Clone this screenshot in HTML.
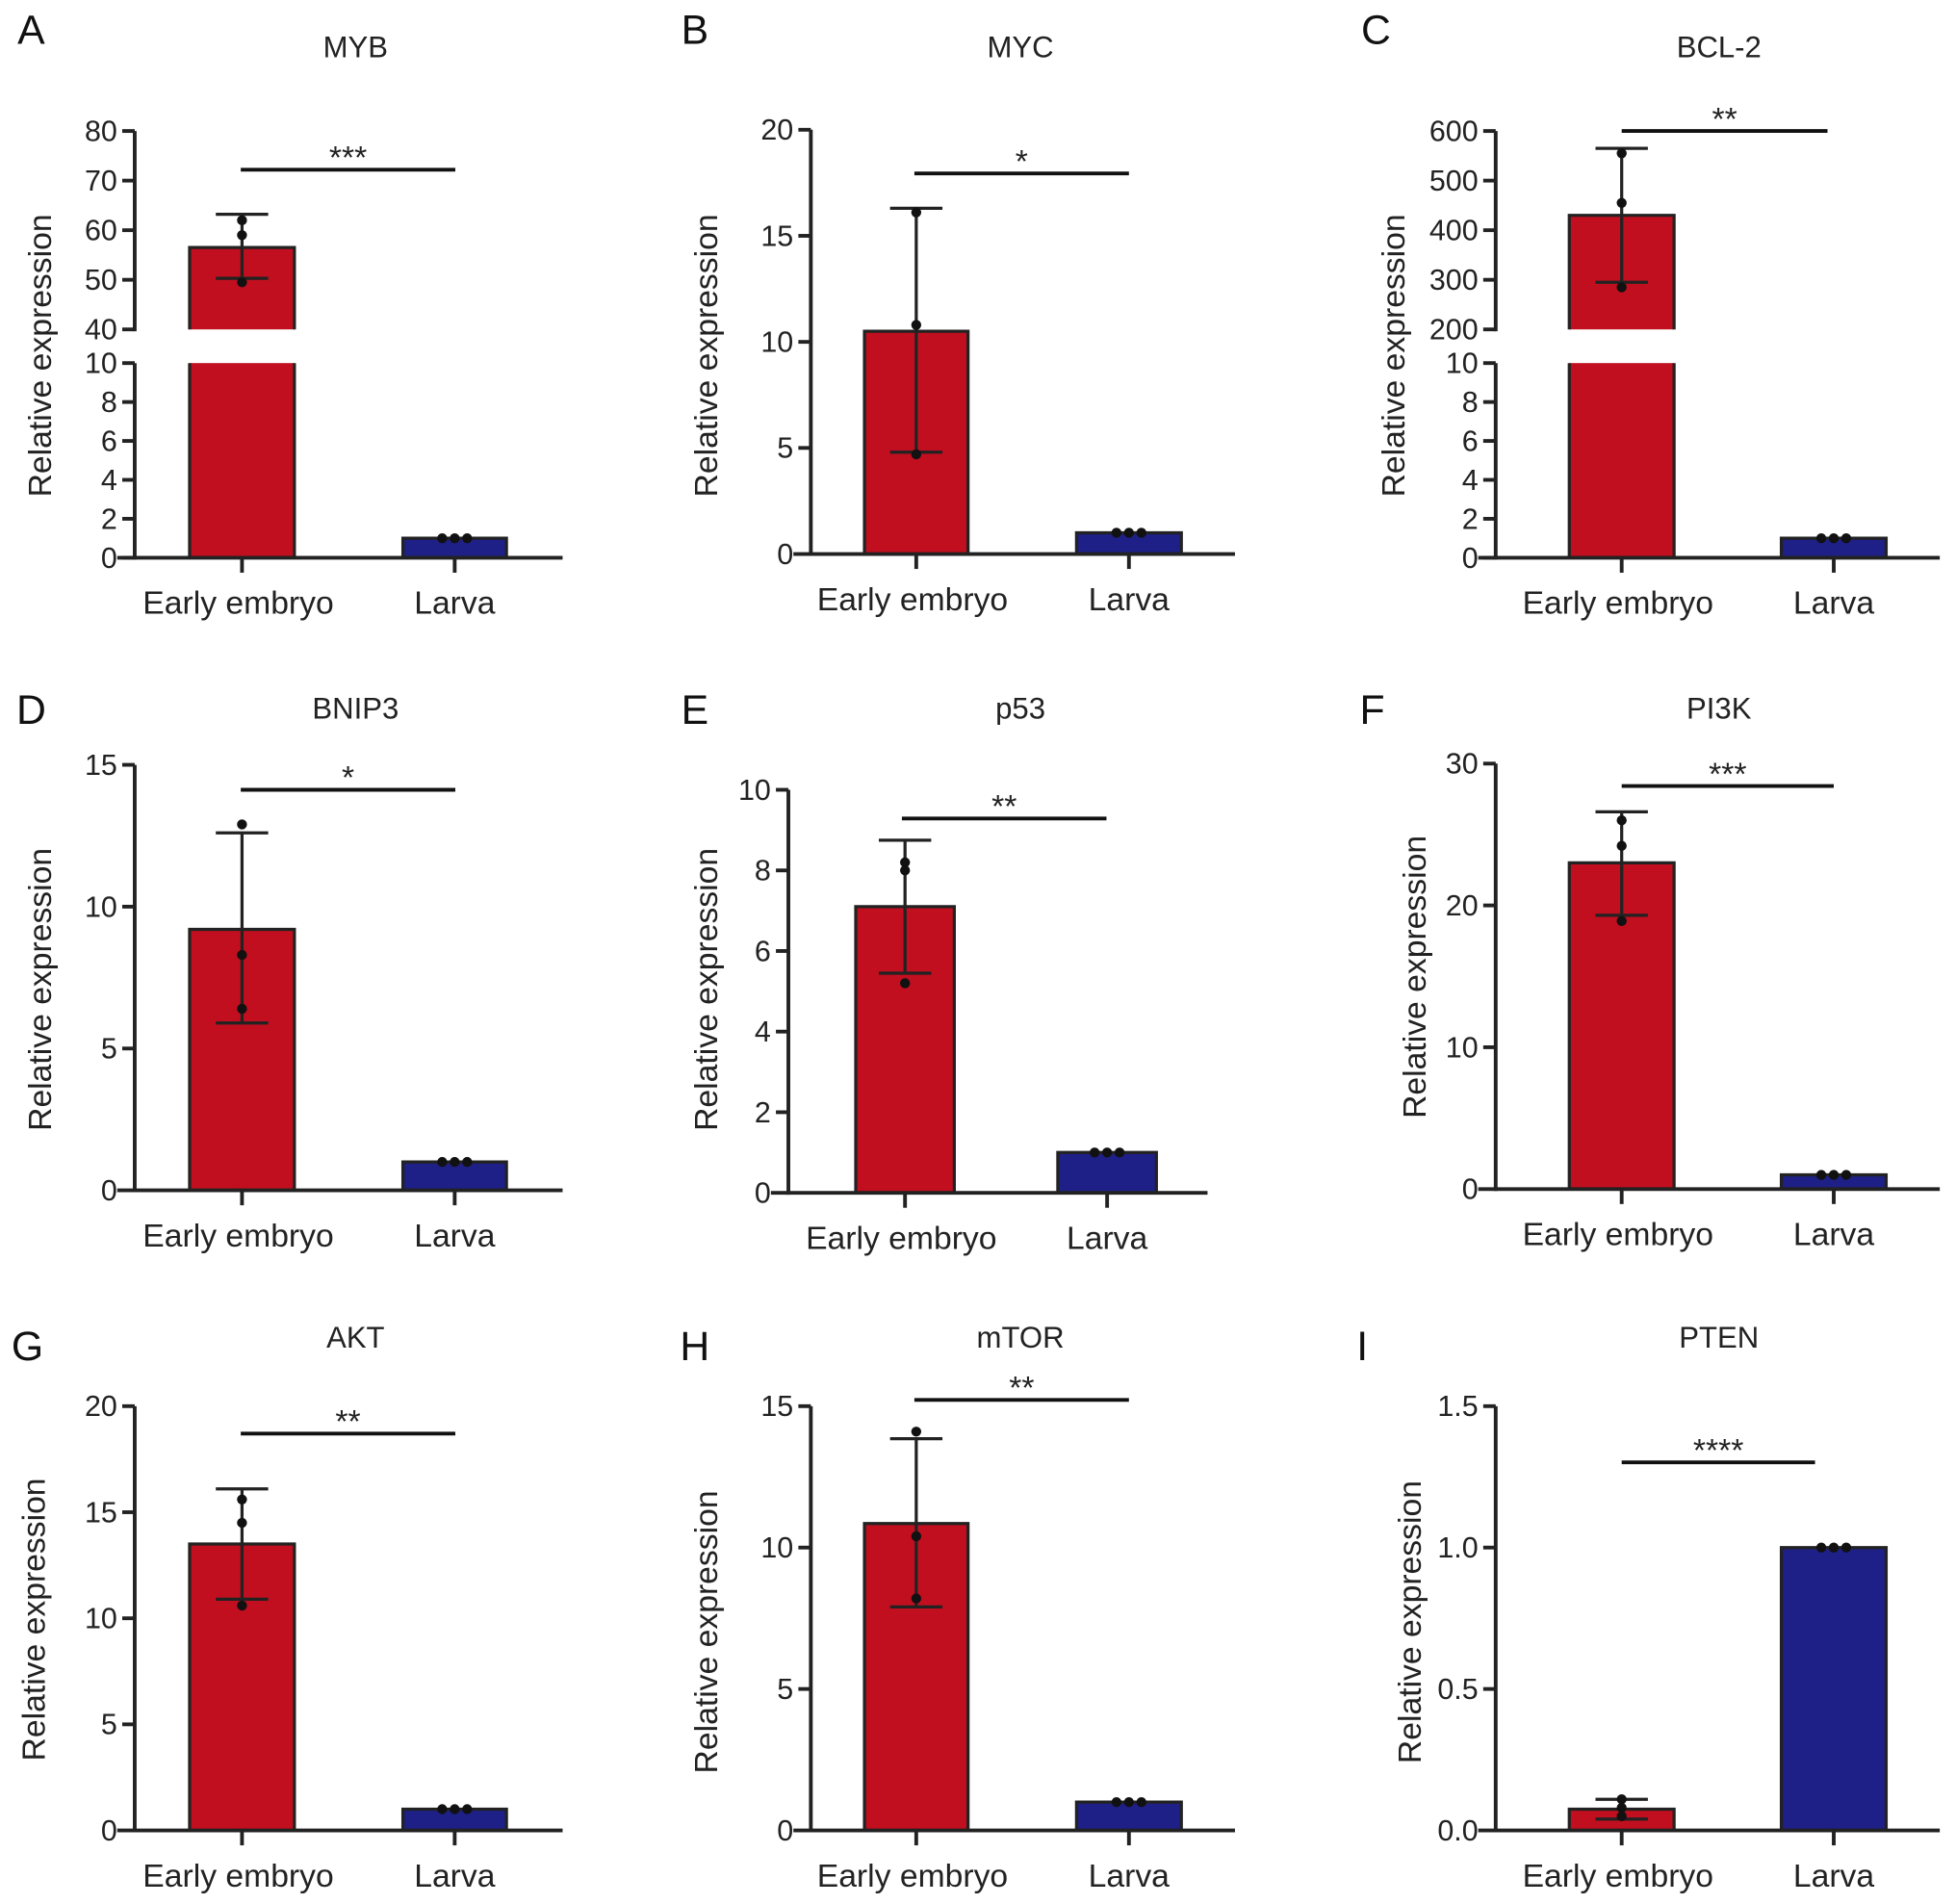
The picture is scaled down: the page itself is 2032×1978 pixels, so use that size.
<!DOCTYPE html>
<html><head><meta charset="utf-8"><style>
html,body{margin:0;padding:0;background:#fff;}
svg{display:block;font-family:"Liberation Sans",Arial,sans-serif;}
</style></head><body>
<svg id="fig" width="2032" height="1978" viewBox="0 0 1568 1526" preserveAspectRatio="none" xmlns="http://www.w3.org/2000/svg"></svg>
<script>
// ---- data ----
const categories = ["Early embryo", "Larva"];
const mybMeans = [56.5, 1.0];  const mybErr = [[50.3, 63.2], [1, 1]];  const mybPts = [[62, 59, 49.5], [1, 1, 1]];
const mycMeans = [10.5, 1.0];  const mycErr = [[4.8, 16.3], [1, 1]];   const mycPts = [[16.1, 10.8, 4.7], [1, 1, 1]];
const bclMeans = [430, 1.0];   const bclErr = [[295, 565], [1, 1]];    const bclPts = [[555, 455, 285], [1, 1, 1]];
const bnipMeans = [9.2, 1.0];  const bnipErr = [[5.9, 12.6], [1, 1]];  const bnipPts = [[12.9, 8.3, 6.4], [1, 1, 1]];
const p53Means = [7.1, 1.0];   const p53Err = [[5.45, 8.75], [1, 1]];  const p53Pts = [[8.2, 8.0, 5.2], [1, 1, 1]];
const pi3kMeans = [23, 1.0];   const pi3kErr = [[19.3, 26.6], [1, 1]]; const pi3kPts = [[26, 24.2, 18.9], [1, 1, 1]];
const aktMeans = [13.5, 1.0];  const aktErr = [[10.9, 16.1], [1, 1]];  const aktPts = [[15.6, 14.5, 10.6], [1, 1, 1]];
const mtorMeans = [10.85, 1.0];const mtorErr = [[7.9, 13.85], [1, 1]]; const mtorPts = [[14.1, 10.4, 8.2], [1, 1, 1]];
const ptenMeans = [0.075, 1.0];const ptenErr = [[0.04, 0.11], [1, 1]]; const ptenPts = [[0.11, 0.08, 0.05], [1, 1, 1]];
const ticksBroken10 = [0, 2, 4, 6, 8, 10];
const mybUpperTicks = [40, 50, 60, 70, 80];
const bclUpperTicks = [200, 300, 400, 500, 600];
const mycTicks = [0, 5, 10, 15, 20];
const bnipTicks = [0, 5, 10, 15];
const p53Ticks = [0, 2, 4, 6, 8, 10];
const pi3kTicks = [0, 10, 20, 30];
const aktTicks = [0, 5, 10, 15, 20];
const mtorTicks = [0, 5, 10, 15];
const ptenTicks = [0.0, 0.5, 1.0, 1.5];

// ---- layout ----
const panels = [
 {id:"A",title:"MYB",lx:25,ly:22,tx:285,ty:37,ax:108,xEnd:451,bars:[[152,236],[323,406]],ylx:32,yly:285,
  segs:[{lo:0,hi:10,y0:447,y1:291,ticks:ticksBroken10},{lo:40,hi:80,y0:264,y1:105,ticks:mybUpperTicks}],
  means:mybMeans,err:mybErr,pts:mybPts,sig:"***",sx:[193,365],sy:136,dec:0},
 {id:"B",title:"MYC",lx:557,ly:22,tx:818,ty:37,ax:650,xEnd:990,bars:[[693,776],[863,947]],ylx:566,yly:285,
  segs:[{lo:0,hi:20,y0:444,y1:104,ticks:mycTicks}],
  means:mycMeans,err:mycErr,pts:mycPts,sig:"*",sx:[733,905],sy:139,dec:0},
 {id:"C",title:"BCL-2",lx:1103,ly:22,tx:1378,ty:37,ax:1199,xEnd:1555,bars:[[1258,1342],[1428,1512]],ylx:1117,yly:285,
  segs:[{lo:0,hi:10,y0:447,y1:291,ticks:ticksBroken10},{lo:200,hi:600,y0:264,y1:105,ticks:bclUpperTicks}],
  means:bclMeans,err:bclErr,pts:bclPts,sig:"**",sx:[1300,1465],sy:105,dec:0},
 {id:"D",title:"BNIP3",lx:25,ly:567,tx:285,ty:567,ax:108,xEnd:451,bars:[[152,236],[323,406]],ylx:32,yly:793,
  segs:[{lo:0,hi:15,y0:954,y1:613,ticks:bnipTicks}],
  means:bnipMeans,err:bnipErr,pts:bnipPts,sig:"*",sx:[193,365],sy:633,dec:0},
 {id:"E",title:"p53",lx:557,ly:567,tx:818,ty:567,ax:632,xEnd:968,bars:[[686,765],[848,927]],ylx:566,yly:793,
  segs:[{lo:0,hi:10,y0:956,y1:633,ticks:p53Ticks}],
  means:p53Means,err:p53Err,pts:p53Pts,sig:"**",sx:[723,887],sy:656,dec:0},
 {id:"F",title:"PI3K",lx:1100,ly:567,tx:1378,ty:567,ax:1199,xEnd:1555,bars:[[1258,1342],[1428,1512]],ylx:1134,yly:783,
  segs:[{lo:0,hi:30,y0:953,y1:612,ticks:pi3kTicks}],
  means:pi3kMeans,err:pi3kErr,pts:pi3kPts,sig:"***",sx:[1300,1470],sy:630,dec:0},
 {id:"G",title:"AKT",lx:22,ly:1077,tx:285,ty:1071,ax:108,xEnd:451,bars:[[152,236],[323,406]],ylx:27,yly:1298,
  segs:[{lo:0,hi:20,y0:1467,y1:1127,ticks:aktTicks}],
  means:aktMeans,err:aktErr,pts:aktPts,sig:"**",sx:[193,365],sy:1149,dec:0},
 {id:"H",title:"mTOR",lx:557,ly:1077,tx:818,ty:1071,ax:650,xEnd:990,bars:[[693,776],[863,947]],ylx:566,yly:1308,
  segs:[{lo:0,hi:15,y0:1467,y1:1127,ticks:mtorTicks}],
  means:mtorMeans,err:mtorErr,pts:mtorPts,sig:"**",sx:[733,905],sy:1122,dec:0},
 {id:"I",title:"PTEN",lx:1092,ly:1077,tx:1378,ty:1071,ax:1199,xEnd:1555,bars:[[1258,1342],[1428,1512]],ylx:1130,yly:1300,
  segs:[{lo:0,hi:1.5,y0:1467,y1:1127,ticks:ptenTicks}],
  means:ptenMeans,err:ptenErr,pts:ptenPts,sig:"****",sx:[1300,1455],sy:1172,dec:1}
];
const colors = ["#c10f1f", "#1e2087"];
const NS = "http://www.w3.org/2000/svg";
const svg = document.getElementById("fig");
function mk(tag, attrs, parent, text){
  const e = document.createElementNS(NS, tag);
  for (const k in attrs) e.setAttribute(k, attrs[k]);
  if (text !== undefined) e.textContent = text;
  parent.appendChild(e); return e;
}
function yScale(p, v){
  for (const s of p.segs){ if (v >= s.lo && v <= s.hi) return s.y0 + (v - s.lo)/(s.hi - s.lo)*(s.y1 - s.y0); }
  const last = p.segs[p.segs.length-1];
  return last.y0 + (v - last.lo)/(last.hi - last.lo)*(last.y1 - last.y0);
}
panels.forEach((p, pi) => {
  const g = mk("g", {}, svg);
  
  
  const L = mk("text", {x:p.lx, y:p.ly+13, "font-size":33, fill:"#111", "text-anchor":"middle"}, g, p.id);
  
  
  const T = mk("text", {x:p.tx, y:p.ty+9, "font-size":24, fill:"#222", "text-anchor":"middle"}, g, p.title);
  
  
  const YL = mk("text", {x:p.ylx, y:p.yly, "font-size":26, fill:"#222", "text-anchor":"middle", transform:`rotate(-90 ${p.ylx} ${p.yly})`, dy:9}, g, "Relative expression");
  
  
  // bars
  p.means.forEach((m, i) => {
    const [x0, x1] = p.bars[i];
    p.segs.forEach((s, si) => {
      if (m <= s.lo) return;
      const top = Math.min(m, s.hi);
      const yt = yScale(p, top), yb = s.y0;
      const r = mk("rect", {x:x0, y:yt, width:x1-x0, height:yb-yt, fill:colors[i]}, g);
      
      
      const capTop = m <= s.hi;
      const d = capTop ? `M${x0},${yb}V${yt}H${x1}V${yb}` : `M${x0},${yb}V${yt}M${x1},${yt}V${yb}`;
      const o = mk("path", {d:d, fill:"none", stroke:"#222", "stroke-width":2.5}, g);
      
      
    });
  });
  // axes
  p.segs.forEach(s => {
    const ax = mk("line", {x1:p.ax, x2:p.ax, y1:s.y0+1.5, y2:s.y1, stroke:"#222", "stroke-width":3}, g);
    
    
    s.ticks.forEach(t => {
      const y = yScale(p, t);
      if (p.segs.length > 1 || t !== s.lo) {
        const tk = mk("line", {x1:p.ax-10, x2:p.ax, y1:y, y2:y, stroke:"#222", "stroke-width":3}, g);
        
        
      }
      const tl = mk("text", {x:p.ax-14, y:y+8, "font-size":23.5, fill:"#222", "text-anchor":"end"}, g, t.toFixed(p.dec));
      
      
    });
  });
  const y0 = p.segs[0].y0;
  const xa = mk("line", {x1:p.ax-14, x2:p.xEnd, y1:y0, y2:y0, stroke:"#222", "stroke-width":3}, g);
  
  
  categories.forEach((c, i) => {
    const cx = (p.bars[i][0] + p.bars[i][1]) / 2;
    const tk = mk("line", {x1:cx, x2:cx, y1:y0, y2:y0+12, stroke:"#222", "stroke-width":3}, g);
    
    
    const cl = mk("text", {x:cx - (i===0?3:0), y:y0+45, "font-size":26, fill:"#222", "text-anchor":"middle"}, g, c);
    
    
    const [lo, hi] = p.err[i];
    if (hi > lo) {
      const yl = yScale(p, lo), yh = yScale(p, hi);
      const eb = mk("path", {d:`M${cx},${yl}V${yh}M${cx-21},${yh}H${cx+21}M${cx-21},${yl}H${cx+21}`, stroke:"#222", "stroke-width":2.5, fill:"none"}, g);
      
      
    }
    p.pts[i].forEach((v, k) => {
      const off = i === 0 ? 0 : (k - 1) * 10;
      const d = mk("circle", {cx:cx+off, cy:yScale(p, v), r:4, fill:"#111"}, g);
      
      
    });
  });
  const sl = mk("line", {x1:p.sx[0], x2:p.sx[1], y1:p.sy, y2:p.sy, stroke:"#111", "stroke-width":3}, g);
  
  
  const st = mk("text", {x:(p.sx[0]+p.sx[1])/2, y:p.sy-1, "font-size":26, fill:"#222", "text-anchor":"middle"}, g, p.sig);
  
  
});
</script>
</body></html>
